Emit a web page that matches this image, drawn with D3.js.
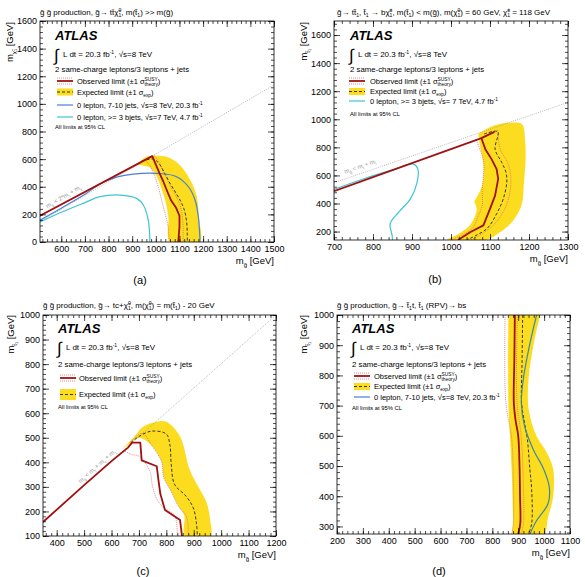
<!DOCTYPE html>
<html>
<head>
<meta charset="utf-8">
<script src="https://cdn.jsdelivr.net/npm/d3@7"></script>
<style>
  body { margin: 0; background: #fff; }
  text { font-family: "Liberation Sans", Arial, sans-serif; }
</style>
</head>
<body>
<svg id="fig" width="585" height="577"></svg>
<script>
// ---- panel (a): gluino -> t tbar chi0 ----
var aKin = [[510,147],[1500,1137]];
var aObs = [[510,190],[985,622],[1000,560],[1015,500],[1030,445],[1050,360],[1065,300],[1085,250],[1100,190],[1100,110],[1095,0]];
var aObsDown = [[955,590],[975,555],[990,500],[1010,400],[1025,300],[1040,200],[1052,110],[1057,0]];
var aObsUp = [[990,630],[1010,590],[1025,535],[1045,465],[1065,395],[1085,335],[1100,275],[1110,210],[1115,130],[1116,0]];
var aExp = [[940,585],[990,600],[1015,565],[1035,505],[1060,425],[1085,355],[1105,295],[1120,235],[1130,150],[1133,60],[1133,0]];
var aBandUpper = [[919,560],[960,618],[1000,625],[1046,617],[1100,560],[1145,450],[1173,330],[1182,180],[1185,0]];
var aBandLower = [[919,560],[975,540],[1005,470],[1025,380],[1040,300],[1053,180],[1060,0]];
var aZeroLep = [[510,158],[600,245],[700,345],[764,420],[834,470],[905,492],[1018,495],[1088,473],[1138,400],[1166,304],[1180,183],[1187,0]];
var aBjets = [[510,145],[600,215],[700,285],[764,328],[848,340],[919,316],[947,268],[968,159],[975,0]];

// ---- panel (b): gluino -> t stop, stop -> b chargino ----
var bKin = [[700,548],[1300,1120]];
var bObs = [[700,488],[1071,858],[1110,908],[1078,865],[1088,787],[1104,716],[1117,645],[1121,575],[1113,456],[1100,362],[1083,244],[1050,197],[1018,140]];
var bObsDown = [[1065,850],[1074,787],[1084,700],[1084,622],[1080,500],[1080,386],[1068,300],[1054,221],[1000,140]];
var bObsUp = [[1120,925],[1126,787],[1145,693],[1153,598],[1151,480],[1138,362],[1108,244],[1066,162],[1050,140]];
var bExp = [[1085,895],[1120,912],[1113,787],[1130,693],[1141,622],[1143,551],[1134,433],[1117,327],[1092,221],[1040,140]];
var bBandUpper = [[1070,895],[1110,955],[1150,975],[1182,965],[1190,850],[1191,700],[1187,550],[1182,400],[1165,300],[1148,244],[1117,180],[1090,140]];
var bBandLower = [[1070,895],[1075,800],[1083,680],[1080,530],[1065,440],[1060,415],[1066,360],[1050,250],[1020,185],[990,140]];
var bBjets = [[700,500],[780,580],[850,640],[904,681],[915,645],[913,551],[896,433],[866,339],[844,256],[849,173],[850,140]];

// ---- panel (c): gluino -> t c chi0 ----
var cKin = [[350,157],[1200,1000]];
var cObs = [[350,157],[500,307],[600,405],[660,460],[675,480],[705,480],[710,408],[765,384],[772,320],[778,272],[795,206],[850,165],[857,100]];
var cObsDown = [[650,445],[672,432],[700,425],[740,365],[748,312],[765,250],[790,215],[830,185],[840,100]];
var cObsUp = [[665,478],[690,505],[715,518],[745,472],[783,402],[790,340],[815,287],[845,220],[874,178],[880,100]];
var cExp = [[670,480],[700,505],[745,527],[800,515],[813,470],[818,390],[830,310],[872,262],[898,215],[910,150],[913,100]];
var cBandUpper = [[640,455],[680,500],[715,545],[765,565],[800,565],[850,505],[885,370],[922,290],[947,235],[960,165],[960,100]];
var cBandLower = [[640,455],[672,480],[700,500],[745,470],[783,402],[790,340],[815,287],[845,220],[865,185],[868,100]];

// ---- panel (d): gluino -> stop t, stop (RPV) -> bs ----
var dObs = [[887,1000],[885,850],[883,710],[890,650],[900,600],[905,500],[907,400],[908,310],[900,275]];
var dObsDown = [[849,1000],[849,765],[855,688],[874,598],[881,465],[881,310],[875,275]];
var dObsUp = [[897,1000],[895,710],[910,610],[918,490],[920,310],[912,275]];
var dExp = [[917,1000],[915,850],[913,710],[925,640],[935,590],[945,490],[952,420],[952,310],[940,275]];
var dBandUpper = [[985,1000],[960,905],[940,790],[940,690],[970,600],[1010,545],[1035,490],[1035,400],[1015,330],[997,275]];
var dBandLower = [[862,1000],[862,710],[868,600],[875,480],[880,310],[880,275]];
var dZeroLep = [[971,1000],[945,905],[920,790],[912,710],[925,630],[958,555],[998,490],[1020,430],[1015,375],[970,318],[945,275]];

// tick values
var aXTicks = d3.range(600, 1501, 100), aYTicks = d3.range(0, 1601, 200);
var bXTicks = d3.range(700, 1301, 100), bYTicks = d3.range(200, 1601, 200);
var cXTicks = d3.range(400, 1201, 100), cYTicks = d3.range(100, 1001, 100);
var dXTicks = d3.range(200, 1101, 100), dYTicks = d3.range(300, 1001, 100);

var YELLOW = "#fcdc1f", RED = "#a01010", PINK = "#d9706a", BLUE = "#4a7fd6", CYAN = "#3cc6cf";

var svg = d3.select("#fig");

// text with sub/superscripts; parts are strings or {sup, sub}
function rich(t, parts, fs) {
  var shift = 0, pend = 0, small = fs * 0.64;
  parts.forEach(function(p) {
    if (typeof p === "string") {
      t.append("tspan").attr("dy", -shift).attr("dx", pend).text(p);
      shift = 0; pend = 0;
      return;
    }
    var w1 = 0;
    if (p.sup !== undefined) {
      var s1 = t.append("tspan").attr("font-size", small)
        .attr("dy", -0.42 * fs - shift).attr("dx", pend).text(p.sup);
      shift = -0.42 * fs; pend = 0;
      w1 = s1.node().getComputedTextLength();
    }
    if (p.sub !== undefined) {
      var s2 = t.append("tspan").attr("font-size", small)
        .attr("dy", 0.28 * fs - shift).attr("dx", p.sup !== undefined ? -w1 : pend).text(p.sub);
      shift = 0.28 * fs; pend = 0;
      if (p.sup !== undefined) pend = Math.max(0, w1 - s2.node().getComputedTextLength());
    }
  });
  return t;
}

function label(g, x, y, parts, fs, opts) {
  opts = opts || {};
  var t = g.append("text").attr("x", x).attr("y", y).attr("font-size", fs)
    .attr("fill", opts.fill || "#000");
  if (opts.anchor) t.attr("text-anchor", opts.anchor);
  if (opts.rotate !== undefined) t.attr("transform", "rotate(" + opts.rotate + "," + x + "," + y + ")");
  if (opts.style) t.attr("font-style", opts.style);
  if (opts.weight) t.attr("font-weight", opts.weight);
  if (opts.family) t.attr("font-family", opts.family);
  return rich(t, parts, fs);
}

var G = "g\u0303", CHI = "\u03c7\u0303", ST = "t\u0303";
var obsText = ["Observed limit (\u00b11 \u03c3", {sup: "SUSY", sub: "theory"}, ")"];
var expText = ["Expected limit (\u00b11 \u03c3", {sub: "exp"}, ")"];
var zeroLepText = ["0 lepton, 7-10 jets, \u221as=8 TeV, 20.3 fb", {sup: "-1"}];

var panels = [
  { key: "a", box: {l: 40, t: 21, r: 274, b: 242}, xDom: [510, 1500], yDom: [0, 1600],
    xTicks: aXTicks, yTicks: aYTicks, xMinor: 20, yMinor: 40,
    band: [aBandUpper, aBandLower], kin: aKin, obs: aObs, obsUp: aObsUp, obsDown: aObsDown, exp: aExp,
    extra: [{d: aZeroLep, c: BLUE}, {d: aBjets, c: CYAN}], obsCurve: d3.curveLinear,
    title: [G + " " + G + " production, " + G + "\u2192 tt\u0304" + CHI, {sup: "0", sub: "1"}, ", m(" + ST, {sub: "1"}, ") >> m(" + G + ")"],
    titlePos: [40, 15], ytitle: ["m", {sub: CHI + "\u2081"}, " [GeV]"], ytPos: [13, 22],
    kinLabel: ["m", {sub: G}, " < 2*m", {sub: "t"}, " + m", {sub: "\u03c7"}], kinAt: [542, 244],
    panelLabel: ["(a)", 140, 284],
    leg: { x: 55, atlas: 40, lumi: 57, sel: 72, sw: 57, tx: 77, cl: 129,
      rows: [{k: "obs", y: 81}, {k: "exp", y: 92},
             {k: "line", c: BLUE, y: 105, t: zeroLepText},
             {k: "line", c: CYAN, y: 117, t: ["0 lepton, >= 3 bjets, \u221as=7 TeV, 4.7 fb", {sup: "-1"}]}] } },
  { key: "b", box: {l: 334, t: 21, r: 568, b: 240}, xDom: [700, 1300], yDom: [140, 1700],
    xTicks: bXTicks, yTicks: bYTicks, xMinor: 20, yMinor: 40,
    band: [bBandUpper, bBandLower], kin: bKin, obs: bObs, obsUp: bObsUp, obsDown: bObsDown, exp: bExp,
    extra: [{d: bBjets, c: CYAN}], obsCurve: d3.curveLinear,
    title: [G + "\u2192 t" + ST, {sub: "1"}, ", " + ST, {sub: "1"}, " \u2192 b" + CHI, {sup: "\u00b1", sub: "1"},
            ", m(" + ST, {sub: "1"}, ") < m(" + G + "), m(" + CHI, {sup: "0", sub: "1"}, ") = 60 GeV, " + CHI, {sup: "\u00b1", sub: "1"}, " = 118 GeV"],
    titlePos: [337, 15], ytitle: ["m", {sub: ST + "\u2081"}, " [GeV]"], ytPos: [307, 22],
    kinLabel: ["m", {sub: G}, " < m", {sub: "t"}, " + m", {sub: ST}], kinAt: [728, 612],
    panelLabel: ["(b)", 435, 283],
    leg: { x: 350, atlas: 40, lumi: 57, sel: 72, sw: 349, tx: 370, cl: 116,
      rows: [{k: "obs", y: 81}, {k: "exp", y: 91.5},
             {k: "line", c: CYAN, y: 101, t: ["0 lepton, >= 3 bjets, \u221as= 7 TeV, 4.7 fb", {sup: "-1"}]}] } },
  { key: "c", box: {l: 43, t: 315, r: 276, b: 536}, xDom: [350, 1200], yDom: [100, 1000],
    xTicks: cXTicks, yTicks: cYTicks, xMinor: 20, yMinor: 20,
    band: [cBandUpper, cBandLower], kin: cKin, obs: cObs, obsUp: cObsUp, obsDown: cObsDown, exp: cExp,
    extra: [], obsCurve: d3.curveLinear,
    title: [G + " " + G + " production, " + G + "\u2192 tc+" + CHI, {sup: "0", sub: "1"}, ", m(" + CHI, {sup: "0", sub: "1"}, ") = m(" + ST, {sub: "1"}, ") - 20 GeV"],
    titlePos: [43, 308], ytitle: ["m", {sub: ST + "\u2081"}, " [GeV]"], ytPos: [14, 315],
    kinLabel: ["m", {sub: G}, " < m", {sub: "t"}, " + m", {sub: "c"}, " + m", {sub: "\u03c7"}], kinAt: [487, 314],
    panelLabel: ["(c)", 143, 575],
    leg: { x: 58, atlas: 333, lumi: 350, sel: 367, sw: 60, tx: 79, cl: 409,
      rows: [{k: "obs", y: 378}, {k: "exp", y: 394.5, tall: true}] } },
  { key: "d", box: {l: 337, t: 315, r: 570, b: 534}, xDom: [200, 1100], yDom: [275, 1000],
    xTicks: dXTicks, yTicks: dYTicks, xMinor: 20, yMinor: 20,
    band: [dBandUpper, dBandLower], kin: null, obs: dObs, obsUp: dObsUp, obsDown: dObsDown, exp: dExp,
    extra: [{d: dZeroLep, c: "#3f8a9e"}], obsCurve: d3.curveCatmullRom,
    title: [G + " " + G + " production, " + G + "\u2192 " + ST, {sub: "1"}, "t, " + ST, {sub: "1"}, " (RPV)\u2192 bs"],
    titlePos: [337, 308], ytitle: ["m", {sub: ST + "\u2081"}, " [GeV]"], ytPos: [307, 315],
    panelLabel: ["(d)", 439, 575],
    leg: { x: 352, atlas: 333, lumi: 350, sel: 367, sw: 354, tx: 374, cl: 410,
      rows: [{k: "obs", y: 376}, {k: "exp", y: 386.5},
             {k: "line", c: BLUE, y: 397, t: zeroLepText}] } }
];

function tickGroup(g, axis, tr) {
  var s = g.append("g").attr("transform", tr).call(axis)
    .attr("font-family", null).attr("font-size", 9);
  s.select(".domain").remove();
  s.selectAll("line").attr("stroke", "#000").attr("stroke-width", 0.7);
  s.selectAll("text").attr("fill", "#000");
  return s;
}

function minorVals(dom, step) {
  return d3.range(Math.ceil(dom[0] / step) * step, dom[1] + 0.1, step);
}

function drawPanel(p) {
  var g = svg.append("g");
  var b = p.box;
  var x = d3.scaleLinear().domain(p.xDom).range([b.l, b.r]);
  var y = d3.scaleLinear().domain(p.yDom).range([b.b, b.t]);

  svg.append("clipPath").attr("id", "clip-" + p.key).append("rect")
    .attr("x", b.l).attr("y", b.t).attr("width", b.r - b.l).attr("height", b.b - b.t);
  var plot = g.append("g").attr("clip-path", "url(#clip-" + p.key + ")");

  var smooth = d3.line().x(function(d) { return x(d[0]); }).y(function(d) { return y(d[1]); })
    .curve(d3.curveCatmullRom.alpha(0.5));
  var straight = d3.line().x(function(d) { return x(d[0]); }).y(function(d) { return y(d[1]); });

  plot.append("path")
    .attr("d", smooth(p.band[0].concat(p.band[1].slice().reverse())) + "Z")
    .attr("fill", YELLOW);

  if (p.kin) {
    plot.append("path").attr("d", straight(p.kin)).attr("fill", "none")
      .attr("stroke", "#999").attr("stroke-width", 0.7).attr("stroke-dasharray", "1,1.2");
  }

  [p.obsDown, p.obsUp].forEach(function(d) {
    plot.append("path").attr("d", smooth(d)).attr("fill", "none")
      .attr("stroke", PINK).attr("stroke-width", 0.8).attr("stroke-dasharray", "1,1");
  });
  plot.append("path").attr("d", smooth(p.exp)).attr("fill", "none")
    .attr("stroke", "#222").attr("stroke-width", 0.9).attr("stroke-dasharray", "3,2");

  p.extra.forEach(function(e) {
    plot.append("path").attr("d", smooth(e.d)).attr("fill", "none")
      .attr("stroke", e.c).attr("stroke-width", 1.2);
  });

  var obsLine = d3.line().x(function(d) { return x(d[0]); }).y(function(d) { return y(d[1]); }).curve(p.obsCurve);
  plot.append("path").attr("d", obsLine(p.obs)).attr("fill", "none")
    .attr("stroke", RED).attr("stroke-width", 1.8).attr("stroke-linejoin", "round");

  // frame
  g.append("rect").attr("x", b.l).attr("y", b.t).attr("width", b.r - b.l).attr("height", b.b - b.t)
    .attr("fill", "none").attr("stroke", "#000").attr("stroke-width", 0.8);

  // ticks on all four sides, pointing inward
  var xm = minorVals(p.xDom, p.xMinor), ym = minorVals(p.yDom, p.yMinor);
  tickGroup(g, d3.axisBottom(x).tickValues(p.xTicks).tickSizeInner(-6).tickSizeOuter(0).tickPadding(4).tickFormat(d3.format("d")), "translate(0," + b.b + ")");
  tickGroup(g, d3.axisBottom(x).tickValues(xm).tickSizeInner(-3).tickSizeOuter(0).tickFormat(""), "translate(0," + b.b + ")");
  tickGroup(g, d3.axisTop(x).tickValues(p.xTicks).tickSizeInner(-6).tickSizeOuter(0).tickFormat(""), "translate(0," + b.t + ")");
  tickGroup(g, d3.axisTop(x).tickValues(xm).tickSizeInner(-3).tickSizeOuter(0).tickFormat(""), "translate(0," + b.t + ")");
  tickGroup(g, d3.axisLeft(y).tickValues(p.yTicks).tickSizeInner(-6).tickSizeOuter(0).tickPadding(3).tickFormat(d3.format("d")), "translate(" + b.l + ",0)");
  tickGroup(g, d3.axisLeft(y).tickValues(ym).tickSizeInner(-3).tickSizeOuter(0).tickFormat(""), "translate(" + b.l + ",0)");
  tickGroup(g, d3.axisRight(y).tickValues(p.yTicks).tickSizeInner(-6).tickSizeOuter(0).tickFormat(""), "translate(" + b.r + ",0)");
  tickGroup(g, d3.axisRight(y).tickValues(ym).tickSizeInner(-3).tickSizeOuter(0).tickFormat(""), "translate(" + b.r + ",0)");

  // titles
  label(g, p.titlePos[0], p.titlePos[1], p.title, 8);
  label(g, b.r, b.b + 22, ["m", {sub: G}, " [GeV]"], 9.5, {anchor: "end"});
  label(g, p.ytPos[0], p.ytPos[1], p.ytitle, 9.5, {anchor: "end", rotate: -90});
  g.append("text").attr("x", p.panelLabel[1]).attr("y", p.panelLabel[2]).attr("text-anchor", "middle")
    .attr("font-family", "'Liberation Serif', 'DejaVu Serif', serif").attr("font-size", 11).text(p.panelLabel[0]);

  if (p.kin) {
    var k0 = p.kin[0], k1 = p.kin[1];
    var ang = Math.atan2(y(k1[1]) - y(k0[1]), x(k1[0]) - x(k0[0])) * 180 / Math.PI;
    label(g, x(p.kinAt[0]), y(p.kinAt[1]), p.kinLabel, 6, {fill: "#999", rotate: ang});
  }

  // legend
  var L = p.leg;
  label(g, L.x, L.atlas, ["ATLAS"], 13, {style: "italic", weight: "bold"});
  g.append("text").attr("x", L.x - 1).attr("y", L.lumi + 4).attr("font-size", 17)
    .attr("font-family", "'DejaVu Sans', sans-serif").text("\u222b");
  label(g, L.x + 8, L.lumi, ["L dt = 20.3 fb", {sup: "-1"}, ", \u221as=8 TeV"], 8);
  label(g, L.x, L.sel, ["2 same-charge leptons/3 leptons + jets"], 7.8);
  L.rows.forEach(function(r) {
    var x0 = L.sw, x1 = L.sw + 16;
    if (r.k === "obs") {
      [-3, 3].forEach(function(o) {
        g.append("line").attr("x1", x0).attr("x2", x1).attr("y1", r.y + o).attr("y2", r.y + o)
          .attr("stroke", PINK).attr("stroke-width", 0.8).attr("stroke-dasharray", "1,1");
      });
      g.append("line").attr("x1", x0).attr("x2", x1).attr("y1", r.y).attr("y2", r.y)
        .attr("stroke", RED).attr("stroke-width", 1.8);
      label(g, L.tx, r.y + 2.8, obsText, 7.5);
    } else if (r.k === "exp") {
      var h = r.tall ? 11 : 7;
      g.append("rect").attr("x", x0).attr("y", r.y - h / 2).attr("width", 16).attr("height", h).attr("fill", YELLOW);
      g.append("line").attr("x1", x0).attr("x2", x1).attr("y1", r.y).attr("y2", r.y)
        .attr("stroke", "#222").attr("stroke-width", 0.9).attr("stroke-dasharray", "3,2");
      label(g, L.tx, r.y + 2.8, expText, 7.5);
    } else {
      g.append("line").attr("x1", x0).attr("x2", x1).attr("y1", r.y).attr("y2", r.y)
        .attr("stroke", r.c).attr("stroke-width", 1.2);
      label(g, L.tx, r.y + 2.8, r.t, 7.5);
    }
  });
  label(g, L.x, L.cl, ["All limits at 95% CL"], 5.8);
}

panels.forEach(drawPanel);
</script>
</body>
</html>
